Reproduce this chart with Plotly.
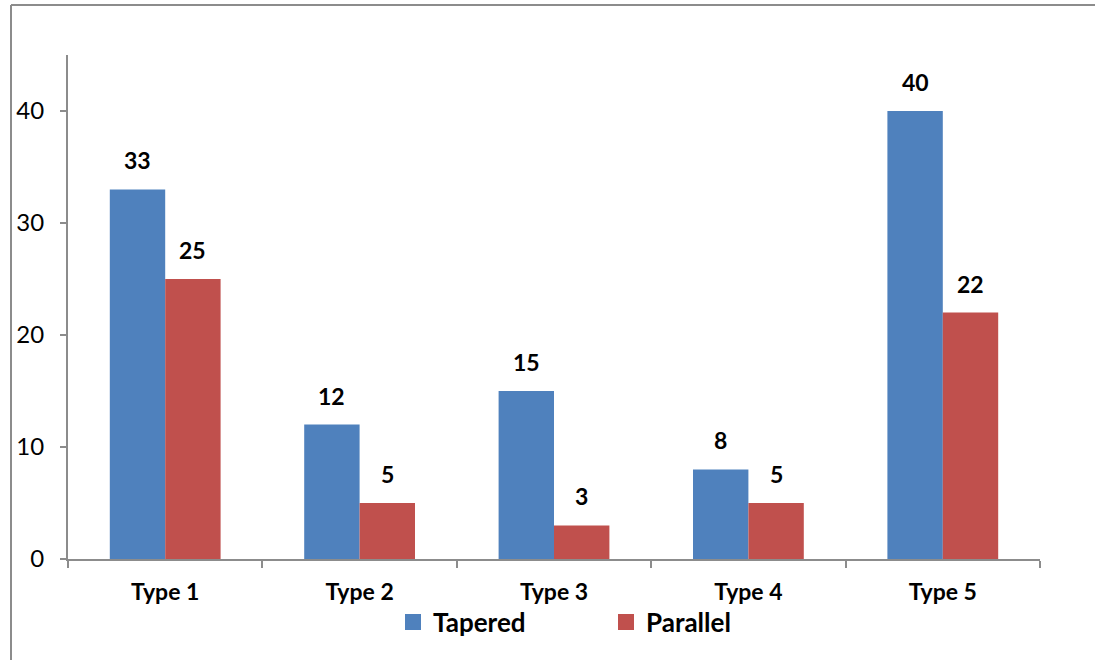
import plotly.graph_objects as go

categories = ["Type 1", "Type 2", "Type 3", "Type 4", "Type 5"]
tapered = [33, 12, 15, 8, 40]
parallel = [25, 5, 3, 5, 22]
series_names = ["Tapered", "Parallel"]
series_colors = ["#4F81BD", "#C0504D"]

W, H = 1095, 660
L, R, T, B = 68, 55, 55, 101
pw, ph = W - L - R, H - T - B
BARGAP = 0.43
FONT = "Lato"


def px_x(x):
    return (x - L) / pw


def px_y(y):
    return (H - B - y) / ph


fig = go.Figure()
for name, vals, col in zip(series_names, [tapered, parallel], series_colors):
    fig.add_trace(go.Bar(
        name=name, x=categories, y=vals,
        marker=dict(color=col, line=dict(width=0)),
        showlegend=False,
    ))
    # legend-only entry with larger square symbol
    fig.add_trace(go.Scatter(
        name=name, x=[None], y=[None], mode="markers",
        marker=dict(symbol="square", size=16, color=col),
        showlegend=True,
    ))

# data labels above bars
bar_w = pw / len(categories) * (1 - BARGAP) / 2
for vals, shift in [(tapered, -bar_w / 2), (parallel, bar_w / 2)]:
    for c, v in zip(categories, vals):
        fig.add_annotation(
            x=c, y=v, text=str(v), showarrow=False,
            xshift=shift, yshift=13, yanchor="bottom",
            font=dict(family=FONT, size=23, color="black", weight="bold"),
        )

fig.update_layout(
    width=W, height=H,
    margin=dict(l=L, r=R, t=T, b=B, pad=0),
    paper_bgcolor="white", plot_bgcolor="white",
    barmode="group", bargap=BARGAP, bargroupgap=0,
    font=dict(family=FONT, color="black"),
    showlegend=True,
    legend=dict(
        orientation="h", x=px_x(393), xanchor="left", y=px_y(622), yanchor="middle",
        font=dict(family=FONT, size=26, color="black", weight="bold"),
        entrywidth=168, entrywidthmode="pixels",
        bgcolor="rgba(0,0,0,0)",
    ),
    shapes=[
        dict(type="line", xref="paper", yref="paper",
             x0=px_x(11), x1=px_x(1100), y0=px_y(5), y1=px_y(5),
             line=dict(color="#8C8C8C", width=2)),
        dict(type="line", xref="paper", yref="paper",
             x0=px_x(11), x1=px_x(11), y0=px_y(5), y1=px_y(665),
             line=dict(color="#8C8C8C", width=2)),
    ],
)

fig.update_xaxes(
    showline=True, linecolor="#8C8C8C", linewidth=2,
    ticks="outside", ticklen=7, tickcolor="#8C8C8C", tickwidth=2,
    tickson="boundaries", showgrid=False, zeroline=False,
    tickfont=dict(family=FONT, size=23, color="black", weight="bold"),
    ticklabelstandoff=11,
)
fig.update_yaxes(
    range=[0, 45], tickvals=[0, 10, 20, 30, 40],
    showline=True, linecolor="#8C8C8C", linewidth=2,
    ticks="outside", ticklen=6, tickcolor="#8C8C8C", tickwidth=2,
    showgrid=False, zeroline=False,
    tickfont=dict(family=FONT, size=24, color="black"),
    ticklabelstandoff=11,
)

fig.write_html("out.html", config={"displayModeBar": False},
               post_script="document.body.style.margin='0';")
